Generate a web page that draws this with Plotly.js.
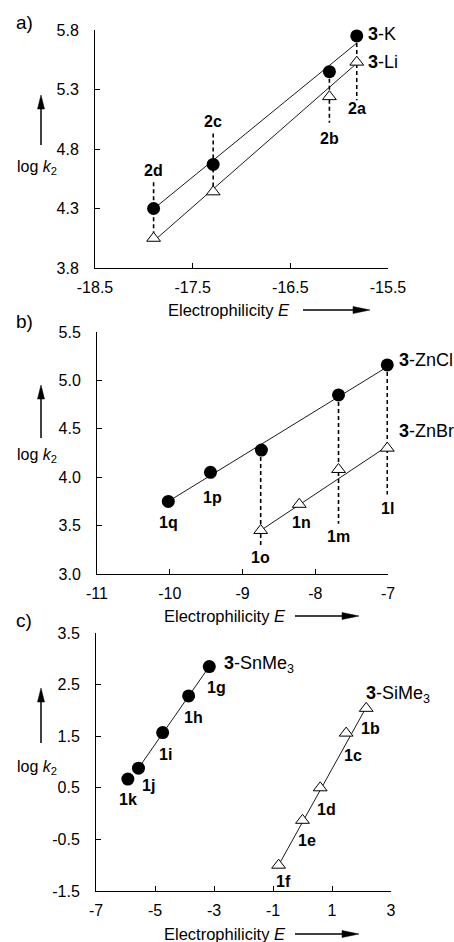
<!DOCTYPE html>
<html><head><meta charset="utf-8">
<script src="https://cdn.plot.ly/plotly-3.0.1.min.js"></script>
<style>html,body{margin:0;padding:0;background:#fff}#chart{width:454px;height:942px}</style>
</head><body><div id="chart"></div>
<script>
// ---------- Panel a ----------
const aE = [-17.90, -17.29, -16.10, -15.82];
const aLabels = ['2d', '2c', '2b', '2a'];
const aK = [4.30, 4.67, 5.45, 5.75];
const aLi = [4.05, 4.44, 5.24, 5.53];
const aFitX = [-17.88, -15.82];
const aFitK = [4.31, 5.69];
const aFitLi = [4.04, 5.52];
const aDashTop = [4.52, 4.93, 5.45, 5.75];
const aDashBot = [4.05, 4.44, 5.02, 5.21];
const aLabelY = [4.62, 5.03, 4.89, 5.14];
const aXTicks = [-18.5, -17.5, -16.5, -15.5];
const aXText = ['-18.5', '-17.5', '-16.5', '-15.5'];
const aYTicks = [3.8, 4.3, 4.8, 5.3, 5.8];
const aYText = ['3.8', '4.3', '4.8', '5.3', '5.8'];

// ---------- Panel b ----------
const bClE = [-10.02, -9.44, -8.74, -7.68, -7.01];
const bZnCl = [3.75, 4.05, 4.28, 4.85, 5.16];
const bBrE = [-8.75, -8.22, -7.68, -7.01];
const bZnBr = [3.45, 3.72, 4.08, 4.30];
const bFitClX = [-10.02, -7.01], bFitCl = [3.75, 5.14];
const bFitBrX = [-8.75, -7.01], bFitBr = [3.45, 4.32];
const bDashE = [-8.75, -7.68, -7.01];
const bDashTop = [4.28, 4.85, 5.16];
const bDashBot = [3.30, 3.52, 3.82];
const bLabelText = ['1q', '1p', '1o', '1n', '1m', '1l'];
const bLabelE = [-10.02, -9.41, -8.75, -8.19, -7.68, -7.01];
const bLabelY = [3.53, 3.79, 3.17, 3.53, 3.39, 3.68];
const bXTicks = [-11, -10, -9, -8, -7];
const bXText = ['-11', '-10', '-9', '-8', '-7'];
const bYTicks = [3.0, 3.5, 4.0, 4.5, 5.0, 5.5];
const bYText = ['3.0', '3.5', '4.0', '4.5', '5.0', '5.5'];

// ---------- Panel c ----------
const cSnE = [-5.92, -5.56, -4.74, -3.86, -3.16];
const cSn = [0.67, 0.88, 1.57, 2.28, 2.85];
const cSnLabels = ['1k', '1j', '1i', '1h', '1g'];
const cSnLabelE = [-5.92, -5.22, -4.65, -3.69, -2.90];
const cSnLabelY = [0.28, 0.55, 1.15, 1.87, 2.45];
const cSiE = [-0.81, 0.00, 0.60, 1.48, 2.16];
const cSi = [-1.00, -0.13, 0.50, 1.56, 2.04];
const cSiLabels = ['1f', '1e', '1d', '1c', '1b'];
const cSiLabelE = [-0.66, 0.15, 0.81, 1.70, 2.32];
const cSiLabelY = [-1.31, -0.52, 0.08, 1.13, 1.64];
const cFitSnX = [-5.56, -3.16], cFitSn = [0.88, 2.85];
const cFitSiX = [-0.81, 2.16], cFitSi = [-1.00, 2.06];
const cXTicks = [-7, -5, -3, -1, 1, 3];
const cXText = ['-7', '-5', '-3', '-1', '1', '3'];
const cYTicks = [-1.5, -0.5, 0.5, 1.5, 2.5, 3.5];
const cYText = ['-1.5', '-0.5', '0.5', '1.5', '2.5', '3.5'];

const W = 454, H = 942;
const px = v => v / W, py = v => 1 - v / H;
const FONT = 'Arial, "Liberation Sans", sans-serif';
const TICKF = {family: FONT, size: 16, color: '#000'};

function dashTrace(xs, top, bot, xa, ya) {
  const x = [], y = [];
  xs.forEach((e, i) => { x.push(e, e, null); y.push(top[i], bot[i], null); });
  return {x, y, xaxis: xa, yaxis: ya, mode: 'lines', line: {color: '#000', width: 1.6, dash: '4px,3px'}, hoverinfo: 'skip', showlegend: false};
}
function fitTrace(x, y, xa, ya) {
  return {x, y, xaxis: xa, yaxis: ya, mode: 'lines', line: {color: '#000', width: 0.9}, hoverinfo: 'skip', showlegend: false};
}
function dots(x, y, xa, ya) {
  return {x, y, xaxis: xa, yaxis: ya, mode: 'markers', marker: {symbol: 'circle', size: 13, color: '#000'}, showlegend: false, cliponaxis: false};
}
function tris(x, y, xa, ya) {
  return {x, y, xaxis: xa, yaxis: ya, mode: 'markers', marker: {symbol: 'triangle-up', size: 12, color: '#fff', line: {color: '#000', width: 1}}, showlegend: false, cliponaxis: false};
}

const data = [
  dashTrace(aE, aDashTop, aDashBot, 'x', 'y'),
  fitTrace(aFitX, aFitK, 'x', 'y'),
  fitTrace(aFitX, aFitLi, 'x', 'y'),
  tris(aE, aLi, 'x', 'y'),
  dots(aE, aK, 'x', 'y'),

  dashTrace(bDashE, bDashTop, bDashBot, 'x2', 'y2'),
  fitTrace(bFitClX, bFitCl, 'x2', 'y2'),
  fitTrace(bFitBrX, bFitBr, 'x2', 'y2'),
  tris(bBrE, bZnBr, 'x2', 'y2'),
  dots(bClE, bZnCl, 'x2', 'y2'),

  fitTrace(cFitSnX, cFitSn, 'x3', 'y3'),
  fitTrace(cFitSiX, cFitSi, 'x3', 'y3'),
  tris(cSiE, cSi, 'x3', 'y3'),
  dots(cSnE, cSn, 'x3', 'y3')
];

function xax(dom, range, tv, tt, anchor) {
  return {domain: dom, range, anchor, tickmode: 'array', tickvals: tv, ticktext: tt,
    showline: true, linecolor: '#000', linewidth: 1, ticks: 'inside', ticklen: 5, tickcolor: '#000',
    showgrid: false, zeroline: false, tickfont: TICKF, ticklabelstandoff: 5, fixedrange: true};
}
function yax(dom, range, tv, tt, anchor) {
  return {domain: dom, range, anchor, tickmode: 'array', tickvals: tv, ticktext: tt,
    showline: true, linecolor: '#000', linewidth: 1, ticks: 'inside', ticklen: 5, tickcolor: '#000',
    showgrid: false, zeroline: false, tickfont: TICKF, ticklabelstandoff: 12, fixedrange: true};
}

const ann = [];
const LBL = {family: FONT, size: 16, color: '#000', weight: 'bold'};
const SER = {family: FONT, size: 18, color: '#000'};
function lab(text, x, y, xr, yr, font, xanchor) {
  ann.push({text, x, y, xref: xr, yref: yr, showarrow: false, font, xanchor: xanchor || 'center', yanchor: 'middle'});
}
// panel a labels
aLabels.forEach((t, i) => lab(t, aE[i], aLabelY[i], 'x', 'y', LBL));
lab('<b>3</b>-K', -15.73, 5.77, 'x', 'y', SER, 'left');
lab('<b>3</b>-Li', -15.73, 5.53, 'x', 'y', SER, 'left');
// panel b labels (series names sit right of the axis range, so placed in paper space)
bLabelText.forEach((t, i) => lab(t, bLabelE[i], bLabelY[i], 'x2', 'y2', LBL));
lab('<b>3</b>-ZnCl', px(397), py(360), 'paper', 'paper', SER, 'left');
lab('<b>3</b>-ZnBr', px(397), py(431), 'paper', 'paper', SER, 'left');
// panel c labels
cSnLabels.forEach((t, i) => lab(t, cSnLabelE[i], cSnLabelY[i], 'x3', 'y3', LBL));
cSiLabels.forEach((t, i) => lab(t, cSiLabelE[i], cSiLabelY[i], 'x3', 'y3', LBL));
lab('<b>3</b>-SnMe<sub>3</sub>', -2.73, 2.88, 'x3', 'y3', SER, 'left');
lab('<b>3</b>-SiMe<sub>3</sub>', 2.07, 2.30, 'x3', 'y3', SER, 'left');

// panel letters, axis titles and arrows (paper coordinates from pixel positions)
const shapes = [];
const panels = [
  {letter: 'a)', letterY: 23, logY: 168, arrTip: 95, arrTail: 145, titleY: 310, titleX: 166, arrX0: 303, arrX1: 370},
  {letter: 'b)', letterY: 322, logY: 455, arrTip: 385, arrTail: 438, titleY: 616, titleX: 162, arrX0: 295, arrX1: 359},
  {letter: 'c)', letterY: 620, logY: 767, arrTip: 688, arrTail: 743, titleY: 934, titleX: 162, arrX0: 295, arrX1: 359}
];
const AX = 41;
panels.forEach(p => {
  ann.push({text: p.letter, x: px(14), y: py(p.letterY), xref: 'paper', yref: 'paper', showarrow: false,
    xanchor: 'left', yanchor: 'middle', font: {family: FONT, size: 19, color: '#000'}});
  ann.push({text: 'log <i>k</i><sub>2</sub>', x: px(37), y: py(p.logY), xref: 'paper', yref: 'paper', showarrow: false,
    xanchor: 'center', yanchor: 'middle', font: {family: FONT, size: 16, color: '#000'}});
  ann.push({text: 'Electrophilicity <i>E</i>', x: px(p.titleX), y: py(p.titleY), xref: 'paper', yref: 'paper', showarrow: false,
    xanchor: 'left', yanchor: 'middle', font: {family: FONT, size: 16.5, color: '#000'}});
  // vertical arrow (y direction)
  shapes.push({type: 'line', xref: 'paper', yref: 'paper', x0: px(AX), x1: px(AX), y0: py(p.arrTail), y1: py(p.arrTip + 10),
    line: {color: '#000', width: 1.5}});
  shapes.push({type: 'path', xref: 'paper', yref: 'paper', fillcolor: '#000', line: {color: '#000', width: 0.5},
    path: `M ${px(AX)},${py(p.arrTip)} L ${px(AX - 3.5)},${py(p.arrTip + 14)} L ${px(AX + 3.5)},${py(p.arrTip + 14)} Z`});
  // horizontal arrow (x direction)
  shapes.push({type: 'line', xref: 'paper', yref: 'paper', x0: px(p.arrX0), x1: px(p.arrX1 - 10), y0: py(p.titleY), y1: py(p.titleY),
    line: {color: '#000', width: 1.5}});
  shapes.push({type: 'path', xref: 'paper', yref: 'paper', fillcolor: '#000', line: {color: '#000', width: 0.5},
    path: `M ${px(p.arrX1)},${py(p.titleY)} L ${px(p.arrX1 - 17)},${py(p.titleY - 3.5)} L ${px(p.arrX1 - 17)},${py(p.titleY + 3.5)} Z`});
});

const layout = {
  width: W, height: H, margin: {l: 0, r: 0, t: 0, b: 0},
  paper_bgcolor: '#fff', plot_bgcolor: 'rgba(0,0,0,0)', showlegend: false,
  font: {family: FONT, color: '#000'},
  xaxis: xax([px(95), px(388)], [-18.5, -15.5], aXTicks, aXText, 'y'),
  yaxis: yax([py(268), py(30)], [3.8, 5.8], aYTicks, aYText, 'x'),
  xaxis2: xax([px(97), px(388)], [-11, -7], bXTicks, bXText, 'y2'),
  yaxis2: yax([py(574), py(332)], [3.0, 5.5], bYTicks, bYText, 'x2'),
  xaxis3: xax([px(96), px(391)], [-7, 3], cXTicks, cXText, 'y3'),
  yaxis3: yax([py(891), py(633)], [-1.5, 3.5], cYTicks, cYText, 'x3'),
  annotations: ann,
  shapes: shapes
};

Plotly.newPlot('chart', data, layout, {staticPlot: true, displayModeBar: false});
</script>
</body></html>
